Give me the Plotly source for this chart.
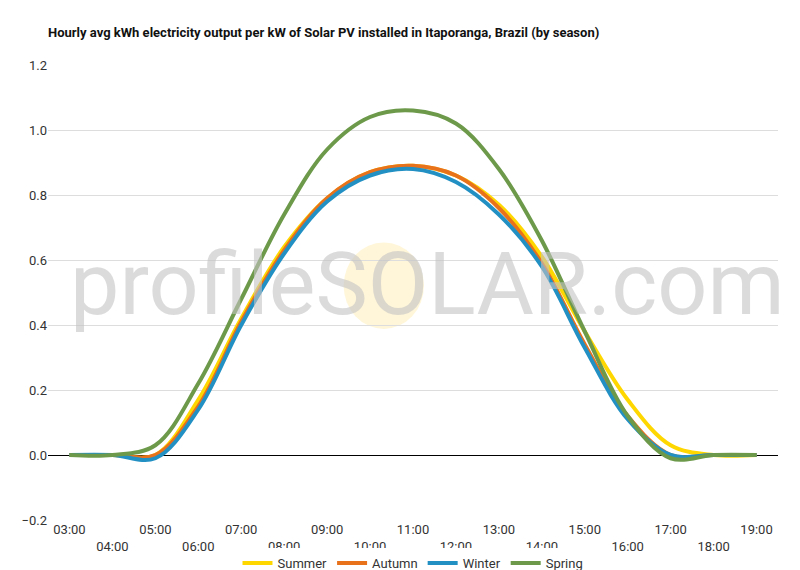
import plotly.graph_objects as go

# hourly data
hours = ["03:00", "04:00", "05:00", "06:00", "07:00", "08:00", "09:00", "10:00", "11:00",
         "12:00", "13:00", "14:00", "15:00", "16:00", "17:00", "18:00", "19:00"]
summer = [0, 0, 0.0, 0.17, 0.42, 0.64, 0.79, 0.87, 0.89, 0.86, 0.77, 0.61, 0.38, 0.17, 0.03, 0.0, 0]
autumn = [0, 0, 0.0, 0.15, 0.41, 0.63, 0.79, 0.87, 0.89, 0.86, 0.76, 0.59, 0.34, 0.12, 0.0, 0, 0]
winter = [0, 0, -0.01, 0.14, 0.40, 0.62, 0.78, 0.86, 0.88, 0.84, 0.74, 0.58, 0.33, 0.11, 0.0, 0, 0]
spring = [0, 0, 0.03, 0.22, 0.48, 0.74, 0.94, 1.04, 1.06, 1.02, 0.88, 0.66, 0.38, 0.12, -0.01, 0, 0]

# alternate tick rows
tick_text = [h if i % 2 == 0 else "<br>" + h for i, h in enumerate(hours)]

fig = go.Figure()
for name, vals, col in [("Summer", summer, "#FFD700"), ("Autumn", autumn, "#E8711C"),
                        ("Winter", winter, "#2390C4"), ("Spring", spring, "#6C9A4A")]:
    fig.add_trace(go.Scatter(x=hours, y=vals, name=name, mode="lines",
                             line=dict(color=col, width=4, shape="spline")))

# watermark
fig.add_shape(type="circle", xref="paper", yref="paper", x0=0.405, x1=0.515, y0=0.42, y1=0.61,
              fillcolor="rgba(255,235,170,0.45)", line_width=0, layer="below")
fig.add_annotation(text="profileSOLAR.com", xref="paper", yref="paper", x=0.52, y=0.52,
                   showarrow=False, font=dict(size=88, color="rgba(195,195,195,0.6)", family="Roboto"))

fig.update_layout(
    width=800, height=570, plot_bgcolor="white", paper_bgcolor="white",
    font=dict(family="Roboto", size=13, color="#333"),
    title=dict(text="<b>Hourly avg kWh electricity output per kW of Solar PV installed in Itaporanga, Brazil (by season)</b>",
               x=0.05, y=0.965, font=dict(size=13, color="#111")),
    margin=dict(l=40, r=30, t=57, b=58, autoexpand=False),
    legend=dict(orientation="h", x=0.5, xanchor="center", y=0.0, yanchor="bottom",
                yref="container", font=dict(size=13)),
    xaxis=dict(tickmode="array", tickvals=hours, ticktext=tick_text, range=[-0.5, 16.5],
               showgrid=False, ticks=""),
    yaxis=dict(range=[-0.2, 1.2], dtick=0.2, tickformat=".1f", gridcolor="#ddd",
               zeroline=True, zerolinecolor="#000", zerolinewidth=1),
)

fig.write_html("out.html")
